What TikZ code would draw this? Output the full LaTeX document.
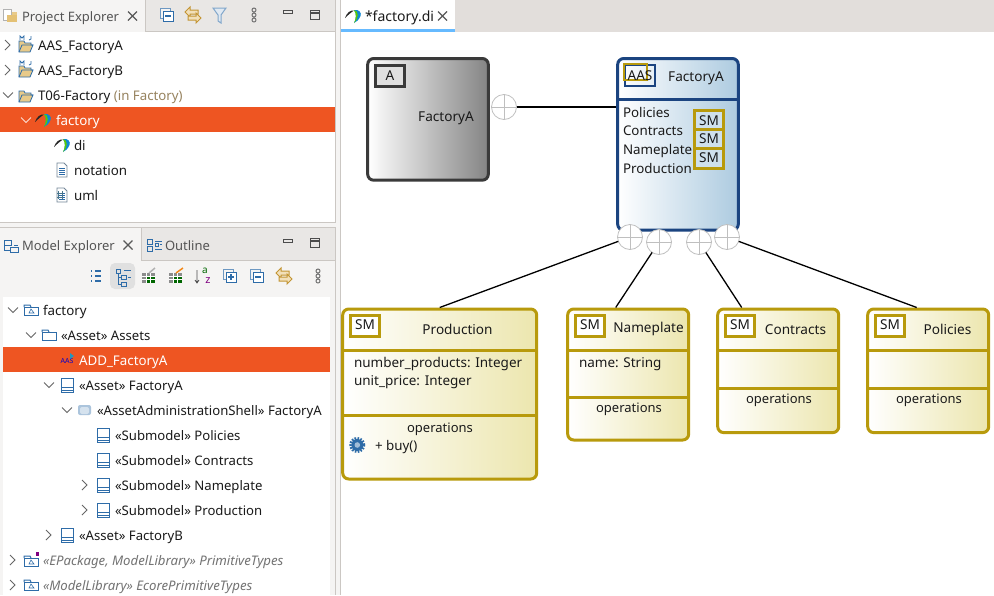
\documentclass[tikz,border=0pt]{standalone}
\usepackage{fontspec}
\setmainfont{Noto Sans}
\usetikzlibrary{calc}
\definecolor{gold}{HTML}{B89A0C}
\definecolor{goldend}{HTML}{ECE6AE}
\definecolor{navy}{HTML}{1B4480}
\definecolor{blueend}{HTML}{ADCBE0}
\definecolor{darkgrey}{HTML}{3A3A3A}
\definecolor{greyend}{HTML}{848484}
\definecolor{orange}{HTML}{EE5522}
\definecolor{panel}{HTML}{F5F4F3}
\definecolor{tabbar}{HTML}{E9E7E5}
\definecolor{edbar}{HTML}{E2DEDB}
\definecolor{sep}{HTML}{CBC7C3}
\definecolor{ink}{HTML}{1A1A1A}
\definecolor{tabink}{HTML}{555555}
\definecolor{icblue}{HTML}{2E6CA8}
\definecolor{icgold}{HTML}{D9A63A}
\tikzset{
 lab/.style={anchor=base west,inner sep=0pt,outer sep=0pt,text=ink,font=\fontsize{13.35}{14}\selectfont},
 glab/.style={lab,font=\fontsize{13.15}{14}\selectfont},
 tablab/.style={lab,text=tabink,font=\fontsize{13}{14}\selectfont},
 whitelab/.style={lab,text=white},
 grylab/.style={lab,text=black!55,font=\fontsize{13.2}{14}\selectfont\itshape},
 dlab/.style={anchor=center,inner sep=0pt,outer sep=0pt,text=ink,font=\fontsize{13.6}{14}\selectfont},
 attlab/.style={lab,font=\fontsize{13.5}{14}\selectfont},
 oplab/.style={dlab,font=\fontsize{13}{13}\selectfont},
 smbox/.style={draw=gold,line width=3pt,rounded corners=6pt,left color=white,right color=goldend,anchor=north west,inner sep=0pt,outer sep=1.5pt},
 aasbox/.style={smbox,draw=navy,right color=blueend},
 assetbox/.style={smbox,draw=darkgrey,right color=greyend},
 tagbox/.style={draw=gold,line width=3pt,fill=white,anchor=north west,inner sep=0pt,outer sep=0pt,minimum width=29pt,minimum height=21pt},
 innertag/.style={tagbox,fill=blueend!60!white,minimum width=28.7pt},
 port/.style={circle,draw=black!25,line width=.8pt,fill=white,minimum size=25pt,inner sep=0pt,outer sep=0pt},
 portcross/.style={draw=black!25,line width=.7pt},
 link/.style={draw=black,line width=1.3pt},
 goldrule/.style={draw=gold,line width=3pt},
 navyrule/.style={draw=navy,line width=3pt},
 chev/.style={draw=black!60,line width=1pt},
 whitechev/.style={draw=white!80!orange,line width=1pt},
 closex/.style={draw=black!65,line width=1.2pt},
}
% chevrons
\newcommand{\chR}[2]{\draw[chev] (#1-3,#2-5) -- (#1+2,#2) -- (#1-3,#2+5);}
\newcommand{\chD}[2]{\draw[chev] (#1-5,#2-2.5) -- (#1,#2+2.5) -- (#1+5,#2-2.5);}
\newcommand{\closeX}[2]{\draw[closex] (#1-4.5,#2-4.5) -- (#1+4.5,#2+4.5) (#1-4.5,#2+4.5) -- (#1+4.5,#2-4.5);}
% papyrus swoosh
\newcommand{\swoosh}[2]{
 \fill[black!85] (#1-8,#2+2) .. controls (#1-6,#2-4) and (#1-2,#2-6) .. (#1+1,#2-5.5) .. controls (#1-2,#2-3.5) and (#1-5,#2-1) .. (#1-8,#2+2);
 \fill[cyan!70!blue] (#1+1,#2-6) .. controls (#1+6,#2-7) and (#1+9,#2-3) .. (#1+7.5,#2) .. controls (#1+6,#2+4) and (#1+3,#2+6) .. (#1+1,#2+7) .. controls (#1+3,#2+3) and (#1+4,#2-2) .. (#1+1,#2-6);
 \fill[green!55!yellow!80!black] (#1+1,#2+7) .. controls (#1+3,#2+3) and (#1+4,#2-2) .. (#1+1,#2-6) .. controls (#1+6,#2-5) and (#1+6,#2+2) .. (#1+1,#2+7);
}
% folders
\newcommand{\openfolder}[2]{
 \fill[icgold!60!white,draw=icblue,line width=.8pt] (#1-7,#2+6) -- (#1-7,#2-5) -- (#1-2,#2-5) -- (#1-1,#2-3) -- (#1+5,#2-3) -- (#1+5,#2-1) -- (#1+7,#2-1) -- (#1+4,#2+6) -- cycle;
 \draw[icblue,line width=.8pt] (#1-7,#2+6) -- (#1-4,#2-1) -- (#1+7,#2-1);
}
\newcommand{\mfolder}[2]{\openfolder{#1}{#2+1}
 \draw[icblue,line width=.8pt] (#1-6,#2-5) -- (#1-6,#2-9) -- (#1-4,#2-7) -- (#1-2,#2-9) -- (#1-2,#2-5) (#1+5,#2-9) -- (#1+5,#2-6) -- (#1+3,#2-5);}
\newcommand{\pkg}[2]{
 \draw[icblue,line width=1pt,fill=white] (#1-7,#2+5) rectangle (#1+7,#2-3);
 \draw[icblue,line width=1pt] (#1-7,#2-3) -- (#1-7,#2-5) -- (#1-1,#2-5) -- (#1,#2-3);
 \draw[icblue,line width=.6pt] (#1-2,#2+3) -- (#1,#2-1) -- (#1+3,#2+3) -- cycle;
}
\newcommand{\plainfolder}[2]{
 \draw[icblue,line width=1pt,fill=white] (#1-7,#2+5) rectangle (#1+7,#2-3);
 \draw[icblue,line width=1pt] (#1-7,#2-3) -- (#1-7,#2-5) -- (#1-1,#2-5) -- (#1,#2-3);
}
\newcommand{\cls}[2]{
 \draw[icblue,line width=1pt,fill=white] (#1-6,#2-7) rectangle (#1+6,#2+7);
 \draw[icblue,line width=1pt] (#1-6,#2+2) -- (#1+6,#2+2) (#1-6,#2+5) -- (#1+6,#2+5);
}
\newcommand{\collapseic}[2]{
 \draw[icblue!70,line width=1pt,fill=panel] (#1-7,#2-7) rectangle (#1+3,#2+3);
 \draw[icblue,line width=1pt,fill=white] (#1-4,#2-4) rectangle (#1+6,#2+6);
 \draw[icblue,line width=1.2pt] (#1-2,#2+1) -- (#1+4,#2+1);
}
\newcommand{\expandic}[2]{\collapseic{#1}{#2}
 \draw[icblue,line width=1.2pt] (#1+1,#2-2) -- (#1+1,#2+4);
}
\newcommand{\linkic}[2]{
 \draw[icgold!90!black,line width=1pt,fill=icgold!35] (#1-8,#2-3) -- (#1-3,#2-8) -- (#1-3,#2-5) -- (#1+5,#2-5) -- (#1+5,#2-1) -- (#1-3,#2-1) -- (#1-3,#2+2) -- cycle;
 \draw[icgold!90!black,line width=1pt,fill=icgold!35] (#1+8,#2+3) -- (#1+3,#2+8) -- (#1+3,#2+5) -- (#1-5,#2+5) -- (#1-5,#2+1) -- (#1+3,#2+1) -- (#1+3,#2-2) -- cycle;
}
\newcommand{\dotsic}[2]{
 \draw[black!55,line width=1pt] (#1,#2-5) circle (2pt) (#1,#2) circle (2pt) (#1,#2+5) circle (2pt);
}
\newcommand{\minic}[2]{\draw[black!70,line width=1.2pt] (#1-4.5,#2-1.5) rectangle (#1+4.5,#2+1.5);}
\newcommand{\maxic}[2]{\draw[black!70,line width=1.2pt] (#1-4.5,#2-4.5) rectangle (#1+4.5,#2+4.5) (#1-4.5,#2-2) -- (#1+4.5,#2-2);}
\newcommand{\docic}[2]{
 \draw[icblue!50!black!60,line width=.8pt,fill=white] (#1-5,#2-7) -- (#1+2,#2-7) -- (#1+5,#2-4) -- (#1+5,#2+7) -- (#1-5,#2+7) -- cycle;
 \draw[icblue,line width=.7pt] (#1-3,#2-2) -- (#1+3,#2-2) (#1-3,#2) -- (#1+3,#2) (#1-3,#2+2) -- (#1+3,#2+2) (#1-3,#2+4) -- (#1+3,#2+4);
}
\newcommand{\tableic}[2]{
 \fill[black!45] (#1-7,#2-3) rectangle (#1+6,#2+7);
 \fill[green!40!black] (#1-3,#2+1) rectangle (#1+6,#2+7);
 \draw[white,line width=.5pt] (#1-7,#2) -- (#1+6,#2) (#1-7,#2+3.5) -- (#1+6,#2+3.5) (#1-3,#2-3) -- (#1-3,#2+7) (#1+1,#2-3) -- (#1+1,#2+7);
}
\begin{document}
\begin{tikzpicture}[x=1pt,y=-1pt]
\useasboundingbox (0,0) rectangle (994,595);
% ---- window surfaces
\fill[white] (0,0) rectangle (994,595);
\fill[panel] (0,0) rectangle (340,595);
\fill[tabbar] (146,0) rectangle (335,31);
\draw[sep,line width=.7pt] (145.5,0) -- (145.5,31) -- (335,31);
\fill[white] (0,32) rectangle (335,222);
\draw[sep,line width=.7pt] (335.5,0) -- (335.5,222) -- (0,222);
\fill[tabbar] (141,228) rectangle (335,260);
\draw[sep,line width=.7pt] (0,227.5) -- (335.5,227.5) -- (335.5,595);
\draw[sep,line width=.7pt] (141.5,228) -- (141.5,260) -- (335,260);
\fill[white] (3,297) rectangle (330,595);
\fill[sep] (340,0) rectangle (341,595);
\fill[edbar] (341,0) rectangle (994,32);
\fill[white] (341,0) rectangle (455,29);
\fill[blue!45!cyan!60!white] (341,29) rectangle (455,32);
\fill[orange] (0,107) rectangle (335,132);
\fill[orange] (3,347) rectangle (330,372);
\fill[black!12,rounded corners=5pt] (110,263) rectangle (135,289);
% ---- top panel
\fill[icgold!60!white] (7,12) rectangle (17,22);
\draw[black!30,line width=.7pt,fill=white] (3,9) rectangle (11,20);
\fill[icgold!70!white] (7,15) rectangle (17,22);
\node[tablab] (tabPE) at (22,21) {Project Explorer};
\closeX{132.5}{16}
\collapseic{167}{15}
\linkic{193}{15}
\draw[icblue!60,line width=1pt,fill=icblue!15] (213,8) -- (226,8) -- (221,15) -- (221,23) -- (218,21) -- (218,15) -- cycle;
\dotsic{254}{15}
\minic{288}{12}
\maxic{315}{15}
\chR{8}{45}\mfolder{26}{45}
\node[lab] (p1) at (38,50) {AAS\_FactoryA};
\chR{8}{70}\mfolder{26}{70}
\node[lab] (p2) at (38,75) {AAS\_FactoryB};
\chD{8}{95}\openfolder{26}{96}
\node[lab,font=\fontsize{13.25}{14}\selectfont] (p3) at (38,100) {T06-Factory \textcolor[HTML]{97835F}{(in Factory)}};
\draw[whitechev] (21,117.5) -- (26,122.5) -- (31,117.5);
\swoosh{43}{120}
\node[whitelab] (p4) at (56,125) {factory};
\swoosh{62}{145}
\node[lab] (p5) at (74,150) {di};
\docic{62}{170}
\node[lab] (p6) at (74,175) {notation};
\docic{62}{195}
\draw[cyan!50!black,line width=.8pt] (57,193) -- (63,193) (57,197) -- (63,197) (58,191) -- (58,199) (62,191) -- (62,199);
\node[lab] (p7) at (74,200) {uml};
% ---- bottom panel
\draw[icblue,line width=.8pt] (4,240) rectangle (11,245) (10,247) rectangle (18,252) (4,245) -- (4,250) -- (10,250) (14,245) -- (18,245);
\node[tablab] (tabME) at (22,250) {Model Explorer};
\closeX{128}{245}
\draw[icblue,line width=.8pt] (147,239) rectangle (152,244) (147,246) rectangle (152,251) (155,243) rectangle (158,246) (160,244.5) -- (162,244.5) (155,241) -- (162,241) (155,249) -- (162,249);
\node[tablab] (tabOL) at (165,250) {Outline};
\minic{288}{241}
\maxic{315}{243}
\draw[icblue,line width=1.2pt] (91,271) -- (92,271) (95,271) -- (101,271) (91,276) -- (92,276) (95,276) -- (101,276) (91,281) -- (92,281) (95,281) -- (101,281);
\draw[icblue,line width=.8pt] (116,269) rectangle (120,273) (121,275) rectangle (126,279) (121,282) rectangle (126,286) (118,273) -- (118,284) -- (121,284) (118,277) -- (121,277) (124,270) -- (131,270) (128,277) -- (131,277);
\tableic{149}{276}
\draw[black!30,line width=1.5pt] (149,273) -- (155,268);
\tableic{176}{276}
\draw[orange!70!yellow,line width=1.5pt] (176,273) -- (183,268);
\draw[black!70,line width=.8pt,-] (197,270) -- (197,282) (195,280) -- (197,283) -- (199,280);
\node[anchor=center,inner sep=0pt,text=green!40!black,font=\fontsize{10}{10}\selectfont\bfseries] (azA) at (205,271) {a};
\node[anchor=center,inner sep=0pt,text=violet,font=\fontsize{11}{11}\selectfont\bfseries] (azZ) at (208,281) {z};
\expandic{230}{276}
\collapseic{257}{276}
\linkic{284}{276}
\dotsic{318}{276}
\chD{13}{310}\pkg{31}{310}
\node[lab] (m1) at (43,315) {factory};
\chD{31}{335}\plainfolder{49}{335}
\node[glab] (m2) at (61,340) {«Asset» Assets};
\node[anchor=center,inner sep=0pt,text=blue!80!black,font=\fontsize{7}{7}\selectfont] (aasic) at (67,361) {AAS};
\fill[icblue!70!cyan] (70,353) -- (74,356) -- (70,359) -- cycle;
\node[whitelab] (m3) at (79,365) {ADD\_FactoryA};
\chD{49}{385}\cls{67}{385}
\node[glab] (m4) at (79,390) {«Asset» FactoryA};
\chD{67}{410}
\fill[icblue!40!white,rounded corners=2pt] (78,405) rectangle (91,415);
\fill[icblue!20!white,rounded corners=2pt] (80,407) rectangle (89,414);
\node[glab] (m5) at (97,415) {«AssetAdministrationShell» FactoryA};
\cls{103}{435}
\node[glab] (m6) at (115,440) {«Submodel» Policies};
\cls{103}{460}
\node[glab] (m7) at (115,465) {«Submodel» Contracts};
\chR{85}{485}\cls{103}{485}
\node[glab] (m8) at (115,490) {«Submodel» Nameplate};
\chR{85}{510}\cls{103}{510}
\node[glab] (m9) at (115,515) {«Submodel» Production};
\chR{49}{535}\cls{67}{535}
\node[glab] (m10) at (79,540) {«Asset» FactoryB};
\chR{13}{560}\pkg{31}{561}
\fill[violet] (36,552) rectangle (39,556);
\node[grylab] (m11) at (43,565) {«EPackage, ModelLibrary» PrimitiveTypes};
\chR{13}{585}\pkg{31}{585}
\node[grylab] (m12) at (43,590) {«ModelLibrary» EcorePrimitiveTypes};
% ---- editor tab
\swoosh{353}{16}
\node[lab,font=\fontsize{14}{14}\selectfont] (edtab) at (365,21) {*factory.di};
\closeX{442.5}{16}
% ---- diagram boxes
\node[assetbox,minimum width=120.6pt,minimum height=121.7pt] (asset) at (366.2,57) {};
\node[tagbox,draw=darkgrey,fill=white!88!black] (assettag) at (375.5,65.5) {};
\node[dlab] (assettagt) at (390,75.5) {A};
\node[dlab] (assetname) at (446,118) {FactoryA};
\node[aasbox,minimum width=120.6pt,minimum height=171.7pt] (aas) at (616.2,57) {};
\draw[navyrule] (aas.west |- 0,99) -- (aas.east |- 0,99);
\node[anchor=north west,draw=navy,line width=1.5pt,minimum width=30pt,minimum height=21pt,inner sep=0pt,outer sep=0pt] (aastagb) at (625,65) {};
\node[anchor=north west,draw=gold,line width=2pt,minimum width=23pt,minimum height=16pt,inner sep=0pt,outer sep=0pt] (aastagg) at (624,64) {};
\node[dlab] (aastag) at (640,75.5) {AAS};
\node[dlab] (aasname) at (696,78) {FactoryA};
\node[lab] (a1) at (623,117) {Policies};
\node[lab] (a2) at (623,135) {Contracts};
\node[lab] (a3) at (623,154) {Nameplate};
\node[lab] (a4) at (623,173) {Production};
\node[innertag,minimum height=18.7pt] (s1) at (694.8,110.8) {};
\node[innertag,minimum height=18.5pt] (s2) at (694.8,129.5) {};
\node[innertag,minimum height=20pt] (s3) at (694.8,148) {};
\node[dlab] (s1t) at (709,120.7) {SM};
\node[dlab] (s2t) at (709,138.5) {SM};
\node[dlab] (s3t) at (709,157.8) {SM};
% Production
\node[smbox,minimum width=194pt,minimum height=170pt] (prod) at (341.2,307.5) {};
\draw[goldrule] (prod.west |- 0,350) -- (prod.east |- 0,350);
\draw[goldrule] (prod.west |- 0,415.5) -- (prod.east |- 0,415.5);
\node[tagbox] (prodtag) at (350.5,315.5) {};
\node[dlab] (prodtagt) at (365,325) {SM};
\node[dlab] (prodname) at (457.5,329) {Production};
\node[attlab] (pa1) at (354,367) {number\_products: Integer};
\node[attlab] (pa2) at (354,385) {unit\_price: Integer};
\node[oplab] (pop) at (440,429) {operations};
\draw[icblue,line width=3pt,dash pattern=on 1.6pt off 1.2pt] (357.3,445) circle (6.5pt);
\fill[icblue] (357.3,445) circle (6pt);
\fill[icblue!45!white] (357.3,445) circle (2.8pt);
\node[lab] (pbuy) at (375,450) {+ buy()};
% Nameplate
\node[smbox,minimum width=121pt,minimum height=131pt] (name) at (566.2,307.5) {};
\draw[goldrule] (name.west |- 0,350) -- (name.east |- 0,350);
\draw[goldrule] (name.west |- 0,397.5) -- (name.east |- 0,397.5);
\node[tagbox] (nametag) at (575.5,315.5) {};
\node[dlab] (nametagt) at (590,325) {SM};
\node[dlab] (namename) at (648.5,329) {Nameplate};
\node[attlab] (na1) at (579,367) {name: String};
\node[oplab] (nop) at (629,409) {operations};
% Contracts
\node[smbox,minimum width=121pt,minimum height=123.6pt] (con) at (716.2,307.5) {};
\draw[goldrule] (con.west |- 0,350) -- (con.east |- 0,350);
\draw[goldrule] (con.west |- 0,388.3) -- (con.east |- 0,388.3);
\node[tagbox] (contag) at (725.8,315.5) {};
\node[dlab] (contagt) at (740,325) {SM};
\node[dlab] (conname) at (795.5,329.5) {Contracts};
\node[oplab] (cop) at (779,400) {operations};
% Policies
\node[smbox,minimum width=121pt,minimum height=123.6pt] (pol) at (866.2,307.5) {};
\draw[goldrule] (pol.west |- 0,350) -- (pol.east |- 0,350);
\draw[goldrule] (pol.west |- 0,388.3) -- (pol.east |- 0,388.3);
\node[tagbox] (poltag) at (875.8,315.5) {};
\node[dlab] (poltagt) at (890,325) {SM};
\node[dlab] (polname) at (947.5,329.5) {Policies};
\node[oplab] (polop) at (929,400) {operations};
% ---- ports
\node[port] (pa) at (504,107) {};
\node[port] (pb) at (630,237) {};
\node[port] (pc) at (659,242) {};
\node[port] (pd) at (699,242) {};
\node[port] (pe) at (727,237) {};
\foreach \q in {pa,pb,pc,pd,pe}{\draw[portcross] (\q.north) -- (\q.south) (\q.west) -- (\q.east);}
% ---- connectors
\coordinate (aasin) at (aas.west |- pa);
\coordinate (nameend) at ($(name.north)+(-12.5,0)$);
\coordinate (conend) at ($(con.north)+(-36.5,0)$);
\coordinate (polend) at ($(pol.north)+(-11.5,0)$);
\draw[link] (pa) -- (aasin);
\draw[link] (pb) -- (prod.north);
\draw[link] (pc) -- (nameend);
\draw[link] (pd) -- (conend);
\draw[link] (pe) -- (polend);
\end{tikzpicture}
\end{document}
